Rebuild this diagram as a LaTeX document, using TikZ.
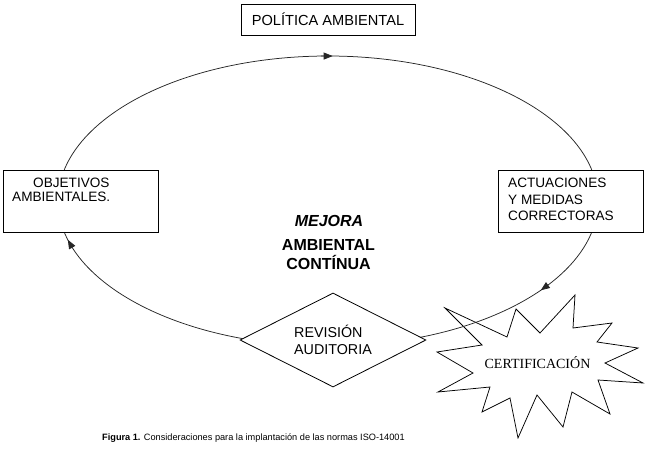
\documentclass[tikz,border=0pt]{standalone}
\usepackage{fontspec}
\setmainfont{Liberation Sans}
\newfontfamily\serifface{Liberation Serif}
\usetikzlibrary{arrows.meta,shapes.geometric}
\begin{document}
\begin{tikzpicture}[x=1pt,y=-1pt,
  box/.style={draw=black, line width=0.8pt, fill=white, inner sep=0pt},
  lbl/.style={inner sep=0pt, align=left},
  ring/.style={draw=black!85, line width=0.75pt},
  arr/.style={draw=black!85, line width=0.75pt, -{Triangle[length=9pt,width=7pt]}},
  starline/.style={draw=black, line width=0.75pt, fill=white}]
\useasboundingbox (0,0) rectangle (646,461);
% star
\draw[starline] (445,308) -- (507,337) -- (516,309) -- (540,333) -- (575,295) -- (573,328)
  -- (612,323) -- (597,342) -- (638,348) -- (605,363) -- (643,383) -- (598,380)
  -- (610,414) -- (572,392) -- (563,427) -- (537,395) -- (518,438) -- (510,398)
  -- (482,412) -- (490,387) -- (438,392) -- (473,373) -- (437,352) -- (482,345) -- cycle;
% ellipse cycle
\coordinate (c) at (328,201);
\draw[ring] (c) ellipse [x radius=270pt, y radius=145pt];
% arrow tips along the cycle
\coordinate (a1) at ({328+270*cos(89)},{201-145*sin(89)});
\coordinate (a1t) at ({328+270*cos(91.5)},{201-145*sin(91.5)});
\coordinate (a2) at ({328+270*cos(-38)},{201-145*sin(-38)});
\coordinate (a2t) at ({328+270*cos(-35.5)},{201-145*sin(-35.5)});
\coordinate (a3) at ({328+270*cos(195.5)},{201-145*sin(195.5)});
\coordinate (a3t) at ({328+270*cos(198)},{201-145*sin(198)});
\draw[arr] (a1t) -- (a1);
\draw[arr] (a2t) -- (a2);
\draw[arr] (a3t) -- (a3);
% boxes
\node[box, minimum width=174pt, minimum height=31pt, font=\fontsize{14.6}{16}\selectfont] (pol) at (328,19.5) {POLÍTICA AMBIENTAL};
\node[box, minimum width=155pt, minimum height=62pt] (obj) at (80.5,201) {};
\node[lbl, anchor=north west, font=\fontsize{13.6}{13.5}\selectfont] (objt) at (12,178) {\hspace*{21pt}OBJETIVOS\\AMBIENTALES.};
\node[box, minimum width=145pt, minimum height=62pt] (act) at (570.5,201) {};
\node[lbl, anchor=north west, font=\fontsize{13.6}{16.5}\selectfont] (actt) at (508,178) {ACTUACIONES\\Y MEDIDAS\\CORRECTORAS};
\node[diamond, draw=black, line width=0.8pt, fill=white, aspect=2, minimum width=186pt, minimum height=94pt, inner sep=0pt, align=left, font=\fontsize{14.3}{17}\selectfont] (rev) at (333,340) {REVISIÓN\\AUDITORIA};
% central text
\node[anchor=base, inner sep=0pt, font=\bfseries\itshape\fontsize{16}{19}\selectfont] (mej) at (329,226.7) {MEJORA};
\node[anchor=north, inner sep=0pt, align=center, font=\bfseries\fontsize{16}{19}\selectfont] (amb) at (328.5,239) {AMBIENTAL\\CONTÍNUA};
% star label
\node[anchor=base, inner sep=0pt, font=\serifface\fontsize{14}{16}\selectfont] (cert) at (537.5,368) {CERTIFICACIÓN};
% caption
\node[anchor=base west, inner sep=0pt, font=\fontsize{9.2}{11}\selectfont] (cap) at (102,440) {\textbf{Figura 1.} Consideraciones para la implantación de las normas ISO-14001};
\end{tikzpicture}
\end{document}
